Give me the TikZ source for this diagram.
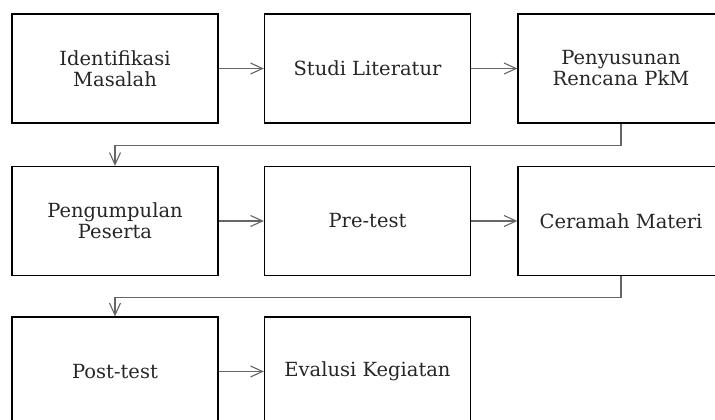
\documentclass[tikz,border=0pt]{standalone}
\usepackage{fontspec}
\setmainfont{DejaVu Serif}
\usetikzlibrary{arrows.meta}
\begin{document}
\begin{tikzpicture}[x=1pt,y=-1pt,
  stepbox/.style={draw=black,line width=1.3pt,minimum width=206pt,minimum height=109pt,
    inner sep=0pt,align=center,font=\fontsize{19.5}{21}\selectfont,text=black!85},
  conn/.style={draw=black!60,line width=1.1pt,-{Straight Barb[length=12pt,width=11pt,line width=1.1pt]}}]
\useasboundingbox (0,0) rectangle (715,420);
\clip (0,0) rectangle (715,420);
\node[stepbox] (a) at (115,68.5) {Identifikasi\\Masalah};
\node[stepbox] (b) at (367.5,68.5) {Studi Literatur};
\node[stepbox] (c) at (621,68.5) {Penyusunan\\Rencana PkM};
\node[stepbox] (d) at (115,221) {Pengumpulan\\Peserta};
\node[stepbox] (e) at (367.5,221) {Pre-test};
\node[stepbox] (f) at (621,221) {Ceramah Materi};
\node[stepbox] (g) at (115,371.5) {Post-test};
\node[stepbox] (h) at (367.5,371.5) {Evalusi Kegiatan};
\draw[conn] (a) -- (b);
\draw[conn] (b) -- (c);
\draw[conn] (d) -- (e);
\draw[conn] (e) -- (f);
\draw[conn] (g) -- (h);
\draw[conn] (c.south) -- ++(0,22) -| (d.north);
\draw[conn] (f.south) -- ++(0,21) -| (g.north);
\end{tikzpicture}
\end{document}
